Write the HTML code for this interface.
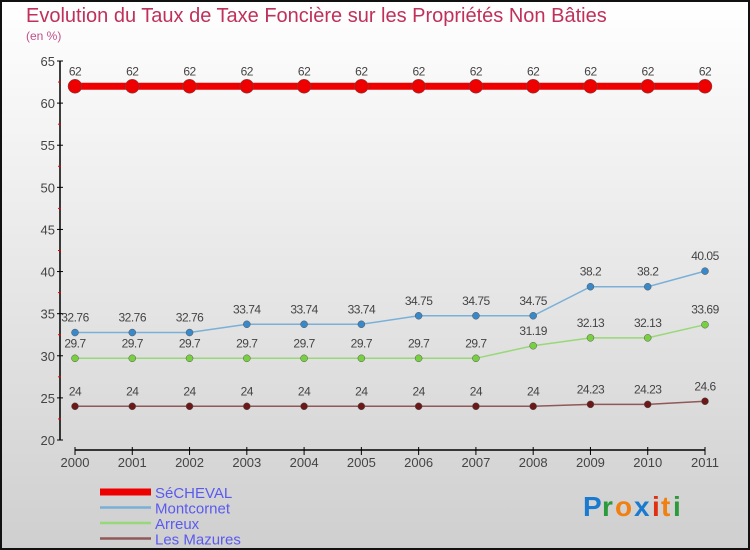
<!DOCTYPE html>
<html><head><meta charset="utf-8"><style>
body{margin:0}
svg{display:block;font-family:"Liberation Sans",sans-serif}
</style></head><body>
<svg width="750" height="550" viewBox="0 0 750 550">
<defs><linearGradient id="bg" x1="0" y1="0" x2="0" y2="1"><stop offset="0" stop-color="#ffffff"/><stop offset="1" stop-color="#cfcfcf"/></linearGradient></defs>
<rect x="1" y="1" width="748" height="548" fill="url(#bg)" stroke="#111" stroke-width="2"/>
<text x="26" y="22" font-size="20" fill="#c0305a">Evolution du Taux de Taxe Foncière sur les Propriétés Non Bâties</text>
<text x="26" y="40" font-size="12" fill="#c0508a">(en %)</text>
<g id="axes"></g>
<g id="series"></g>
<g id="legend"></g>
<g font-size="28" font-weight="bold">
<text x="583" y="516" fill="#1a7ad0">P</text><text x="602" y="516" fill="#2a9a3a">r</text><text x="615" y="516" fill="#f08010">o</text><text x="634" y="516" fill="#1a7ad0">x</text><text x="652" y="516" fill="#e03010">i</text><text x="661" y="516" fill="#f08010">t</text><text x="673" y="516" fill="#2a9a3a">i</text>
</g>
</svg>
<script>
const years=[2000,2001,2002,2003,2004,2005,2006,2007,2008,2009,2010,2011];
const yTicks=[20,25,30,35,40,45,50,55,60,65];
const seriesNames=["SéCHEVAL","Montcornet","Arreux","Les Mazures"];
const sechevalVals=[62,62,62,62,62,62,62,62,62,62,62,62];
const montcornetVals=[32.76,32.76,32.76,33.74,33.74,33.74,34.75,34.75,34.75,38.2,38.2,40.05];
const arreuxVals=[29.7,29.7,29.7,29.7,29.7,29.7,29.7,29.7,31.19,32.13,32.13,33.69];
const mazuresVals=[24,24,24,24,24,24,24,24,24,24.23,24.23,24.6];
const NS="http://www.w3.org/2000/svg";
function xS(i){return 75+i*(630/11);}
function yS(v){return 440-(v-20)*(379/45);}
function mk(tag,attrs,parent,txt){const e=document.createElementNS(NS,tag);for(const k in attrs)e.setAttribute(k,attrs[k]);if(txt!==undefined)e.textContent=txt;parent.appendChild(e);return e;}
const ax=document.getElementById('axes');
let l=mk('line',{x1:60,y1:61,x2:60,y2:440,stroke:'#000','stroke-width':1.5},ax);


l=mk('line',{x1:75,y1:450,x2:705,y2:450,stroke:'#000','stroke-width':1.5},ax);


yTicks.forEach(v=>{const y=yS(v);
 mk('line',{x1:57,y1:y,x2:63,y2:y,stroke:'#000'},ax);
 const t=mk('text',{x:55,y:y+5,'font-size':13,fill:'#444','text-anchor':'end'},ax,v);
 
 
 if(v<65){mk('line',{x1:58,y1:yS(v+2.5),x2:61,y2:yS(v+2.5),stroke:'#e00'},ax);}
});
years.forEach((yr,i)=>{const x=xS(i);
 mk('line',{x1:x,y1:447,x2:x,y2:455,stroke:'#000'},ax);
 const t=mk('text',{x:x,y:467,'font-size':13,fill:'#444','text-anchor':'middle'},ax,yr);
 
 
});
const sg=document.getElementById('series');
const cfg=[
 {vals:sechevalVals,line:'#ee0000',w:7,dot:'#ee0000',r:7,name:'secheval'},
 {vals:montcornetVals,line:'#7ab0d8',w:1.5,dot:'#3a88c8',r:3.5,name:'montcornet'},
 {vals:arreuxVals,line:'#98d878',w:1.5,dot:'#78d040',r:3.5,name:'arreux'},
 {vals:mazuresVals,line:'#905858',w:1.5,dot:'#6a1818',r:3.5,name:'les-mazures'}];
cfg.forEach(c=>{
 const g=mk('g',{},sg);
 
 
 const p=mk('polyline',{points:c.vals.map((v,i)=>xS(i)+','+yS(v)).join(' '),fill:'none',stroke:c.line,'stroke-width':c.w},g);
 
 
 c.vals.forEach((v,i)=>{
  const d=mk('circle',{cx:xS(i),cy:yS(v),r:c.r,fill:c.dot,stroke:'#555','stroke-width':0.5},g);
  
  
  const t=mk('text',{x:xS(i),y:yS(v)-11,'font-size':12,fill:'#444','text-anchor':'middle','letter-spacing':'-0.5'},g,String(v));
  
  
 });
});
const lg=document.getElementById('legend');
const lcols=['#ee0000','#7ab0d8','#98d878','#905858'];
seriesNames.forEach((n,i)=>{const y=492+i*15.5;
 const g=mk('g',{},lg);
 
 
 mk('line',{x1:100,y1:y,x2:151,y2:y,stroke:lcols[i],'stroke-width':i==0?7:2.5},g);
 mk('text',{x:155,y:y+6,'font-size':15,fill:'#5a5af0'},g,n);
});
</script>
</body></html>
